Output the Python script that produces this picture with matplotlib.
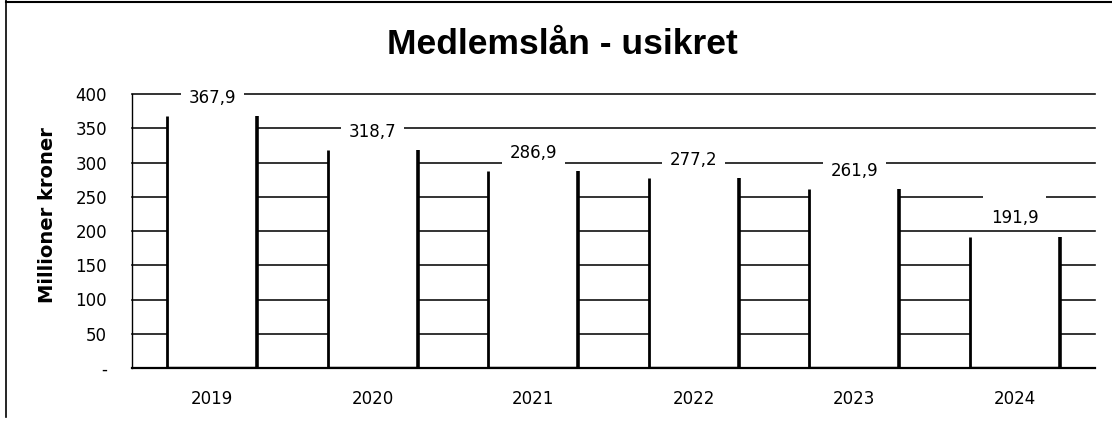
import matplotlib
matplotlib.use("Agg")
import matplotlib.pyplot as plt
from matplotlib.path import Path
from matplotlib.lines import Line2D
import numpy as np

years = ["2019", "2020", "2021", "2022", "2023", "2024"]
values = [367.9, 318.7, 286.9, 277.2, 261.9, 191.9]
yticks = [0, 50, 100, 150, 200, 250, 300, 350, 400]
ytick_labels = ["-", "50", "100", "150", "200", "250", "300", "350", "400"]
title = "Medlemslån - usikret"
ylabel = "Millioner kroner"

W, H = 1112, 421
fig = plt.figure(figsize=(W / 100, H / 100), dpi=100)
fig.patch.set_facecolor("white")

ax = fig.add_axes([132 / W, 1 - 368 / H, (1095 - 132) / W, (368 - 94) / H])
x = np.arange(len(years))
bw = 0.56

ax.set_xlim(-0.5, len(years) - 0.5)
ax.set_ylim(0, 400)

# gridlines (behind the white bars)
ax.set_yticks(yticks)
ax.set_yticklabels(ytick_labels)
ax.yaxis.grid(True, color="#111111", linewidth=1.2, zorder=0)
ax.set_axisbelow(True)
for gl in ax.yaxis.get_gridlines():
    gl.set_clip_on(False)

bars = ax.bar(x, values, width=bw, color="white", edgecolor="none", zorder=2)
# side edges and bottom edge of each bar
ax.vlines(x - bw / 2, 0, values, color="black", linewidth=2.0, zorder=3)
ax.vlines(x + bw / 2, 0, values, color="black", linewidth=2.6, zorder=3)
ax.hlines([0] * len(x), x - bw / 2, x + bw / 2, color="black", linewidth=2.4, zorder=3)


def label_box(x0, y0, width, height, mutation_size):
    px = 0.45 * mutation_size
    pt = 0.9 * mutation_size
    pb = 0.1 * mutation_size
    verts = [(x0 - px, y0 - pb), (x0 + width + px, y0 - pb),
             (x0 + width + px, y0 + height + pt), (x0 - px, y0 + height + pt),
             (x0 - px, y0 - pb)]
    return Path(verts, closed=True)


for xi, v in zip(x, values):
    ax.annotate(f"{v:.1f}".replace(".", ","), xy=(xi, v), xytext=(0, 13),
                textcoords="offset points", ha="center", va="center",
                fontsize=12, family="DejaVu Sans", color="black", zorder=5,
                bbox=dict(boxstyle=label_box, facecolor="white", edgecolor="none"))

ax.set_xticks(x)
ax.set_xticklabels(years)
ax.tick_params(axis="both", length=0, labelsize=12, colors="black")
ax.tick_params(axis="y", pad=18)
ax.tick_params(axis="x", pad=15.5)

for s in ["top", "right"]:
    ax.spines[s].set_visible(False)
ax.spines["left"].set_color("black")
ax.spines["left"].set_linewidth(1.0)
ax.spines["bottom"].set_color("black")
ax.spines["bottom"].set_linewidth(1.6)
ax.spines["bottom"].set_zorder(3)

ax.set_ylabel(ylabel, fontsize=14, fontweight="bold", family="DejaVu Sans",
              rotation=90, va="center", ha="center")
ax.yaxis.set_label_coords((48 - 132) / (1095 - 132), (368 - 215) / (368 - 94))

fig.text(562 / W, 1 - 44 / H, title, ha="center", va="center",
         fontsize=25.5, fontweight="bold", family="Liberation Sans", color="black")

# outer frame (left and top edges as in the scan)
fig.add_artist(Line2D([6 / W, 6 / W], [1 - 417 / H, 1.0], transform=fig.transFigure,
                      color="black", linewidth=1.2))
fig.add_artist(Line2D([6 / W, 1.0], [1 - 1.5 / H, 1 - 1.5 / H], transform=fig.transFigure,
                      color="black", linewidth=1.5))

fig.savefig("out.png", dpi=100, facecolor="white")
